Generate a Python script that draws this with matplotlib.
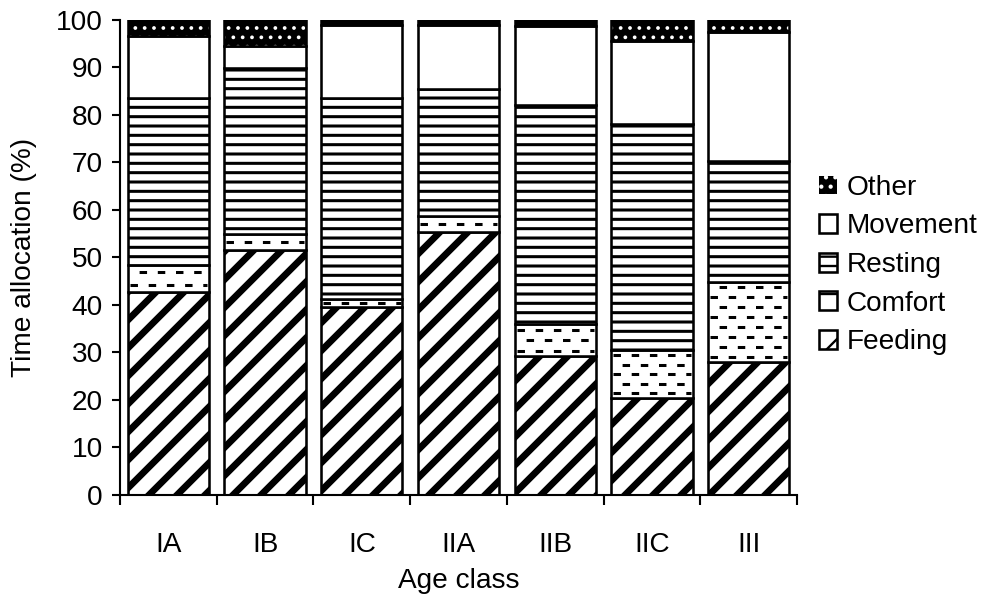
import matplotlib
matplotlib.use('Agg')
import matplotlib.pyplot as plt
import matplotlib.patches as mpatches
import numpy as np

classes = ['IA', 'IB', 'IC', 'IIA', 'IIB', 'IIC', 'III']
feeding = [42.7, 51.6, 39.6, 55.4, 29.3, 20.4, 28.1]
comfort = [5.7, 3.3, 1.7, 3.4, 6.6, 10.1, 16.8]
resting = [35.1, 34.9, 42.2, 26.7, 46.3, 47.7, 25.4]
movement = [13.2, 4.8, 15.4, 13.4, 16.5, 17.4, 27.2]
other = [3.3, 5.4, 1.1, 1.1, 1.3, 4.4, 2.5]

DPI = 168
plt.rcParams['font.family'] = ['Liberation Sans', 'DejaVu Sans']
plt.rcParams['font.size'] = 12
plt.rcParams['lines.scale_dashes'] = False


def set_hatch_lw(patches, hlw):
    # per-artist hatch width if available, otherwise swap rcParams at draw time
    for p in patches:
        if hasattr(p, 'set_hatch_linewidth'):
            p.set_hatch_linewidth(hlw)
        else:
            orig = p.draw

            def draw(renderer, orig=orig, hlw=hlw):
                with plt.rc_context({'hatch.linewidth': hlw}):
                    orig(renderer)
            p.draw = draw


fig = plt.figure(figsize=(984 / DPI, 600 / DPI), dpi=DPI)
ax = fig.add_axes([0.122, 0.175, 0.688, 0.7917])

x = np.arange(len(classes))
w = 0.84
lw = 1.1
f = np.array(feeding)
c = np.array(comfort)
r = np.array(resting)
m = np.array(movement)
o = np.array(other)

bf = ax.bar(x, f, w, color='white', edgecolor='black', linewidth=lw, hatch='//')
set_hatch_lw(bf, 2.9)
bc = ax.bar(x, c, w, bottom=f, color='white', edgecolor='black', linewidth=lw)
br = ax.bar(x, r, w, bottom=f + c, color='white', edgecolor='black', linewidth=lw, hatch='---')
set_hatch_lw(br, 1.3)
bm = ax.bar(x, m, w, bottom=f + c + r, color='white', edgecolor='black', linewidth=lw)
bo = ax.bar(x, o, w, bottom=f + c + r + m, color='black', edgecolor='white', linewidth=0, hatch='...')
set_hatch_lw(bo, 0.8)
ax.bar(x, o, w, bottom=f + c + r + m, fill=False, edgecolor='black', linewidth=lw)

# dashed rows for comfort
step = 2.0
for xi, b, h in zip(x, f, c):
    n = max(1, int(h // step))
    ys = b + h * (np.arange(n) + 0.5) / n
    for k, y in enumerate(ys):
        off = 0 if k % 2 == 0 else 3.9
        ax.hlines(y, xi - w / 2 + 0.02, xi + w / 2 - 0.02, colors='black',
                  linewidth=1.3, linestyles=[(off, (3.2, 4.6))])

ax.set_xlim(-0.5, 6.5)
ax.set_ylim(0, 100)
for s in ['top', 'right']:
    ax.spines[s].set_visible(False)
for s in ['left', 'bottom']:
    ax.spines[s].set_linewidth(0.9)

ax.set_xticks(np.arange(-0.5, 7, 1))
ax.set_xticklabels([])
ax.set_xticks(x, minor=True)
ax.set_xticklabels(classes, minor=True)
ax.tick_params(axis='x', which='major', length=4.3, width=0.9, direction='out')
ax.tick_params(axis='x', which='minor', length=0, pad=16)
ax.set_yticks(range(0, 101, 10))
ax.tick_params(axis='y', length=3.4, width=0.9, pad=4)
ax.set_xlabel('Age class', labelpad=4)
ax.set_ylabel('Time allocation (%)', labelpad=8)

comfort_handle = mpatches.Patch(facecolor='white', edgecolor='black', hatch='-', linewidth=lw)
handles = [bo[0], bm[0], br[0], comfort_handle, bf[0]]
labels = ['Other', 'Movement', 'Resting', 'Comfort', 'Feeding']
fig.legend(handles, labels, loc='center left', bbox_to_anchor=(819 / 984, 1 - 265 / 600),
           frameon=False, handlelength=0.65, handleheight=0.65, handletextpad=0.35,
           labelspacing=0.45, borderpad=0, borderaxespad=0)

fig.savefig('out.png', dpi=DPI)
